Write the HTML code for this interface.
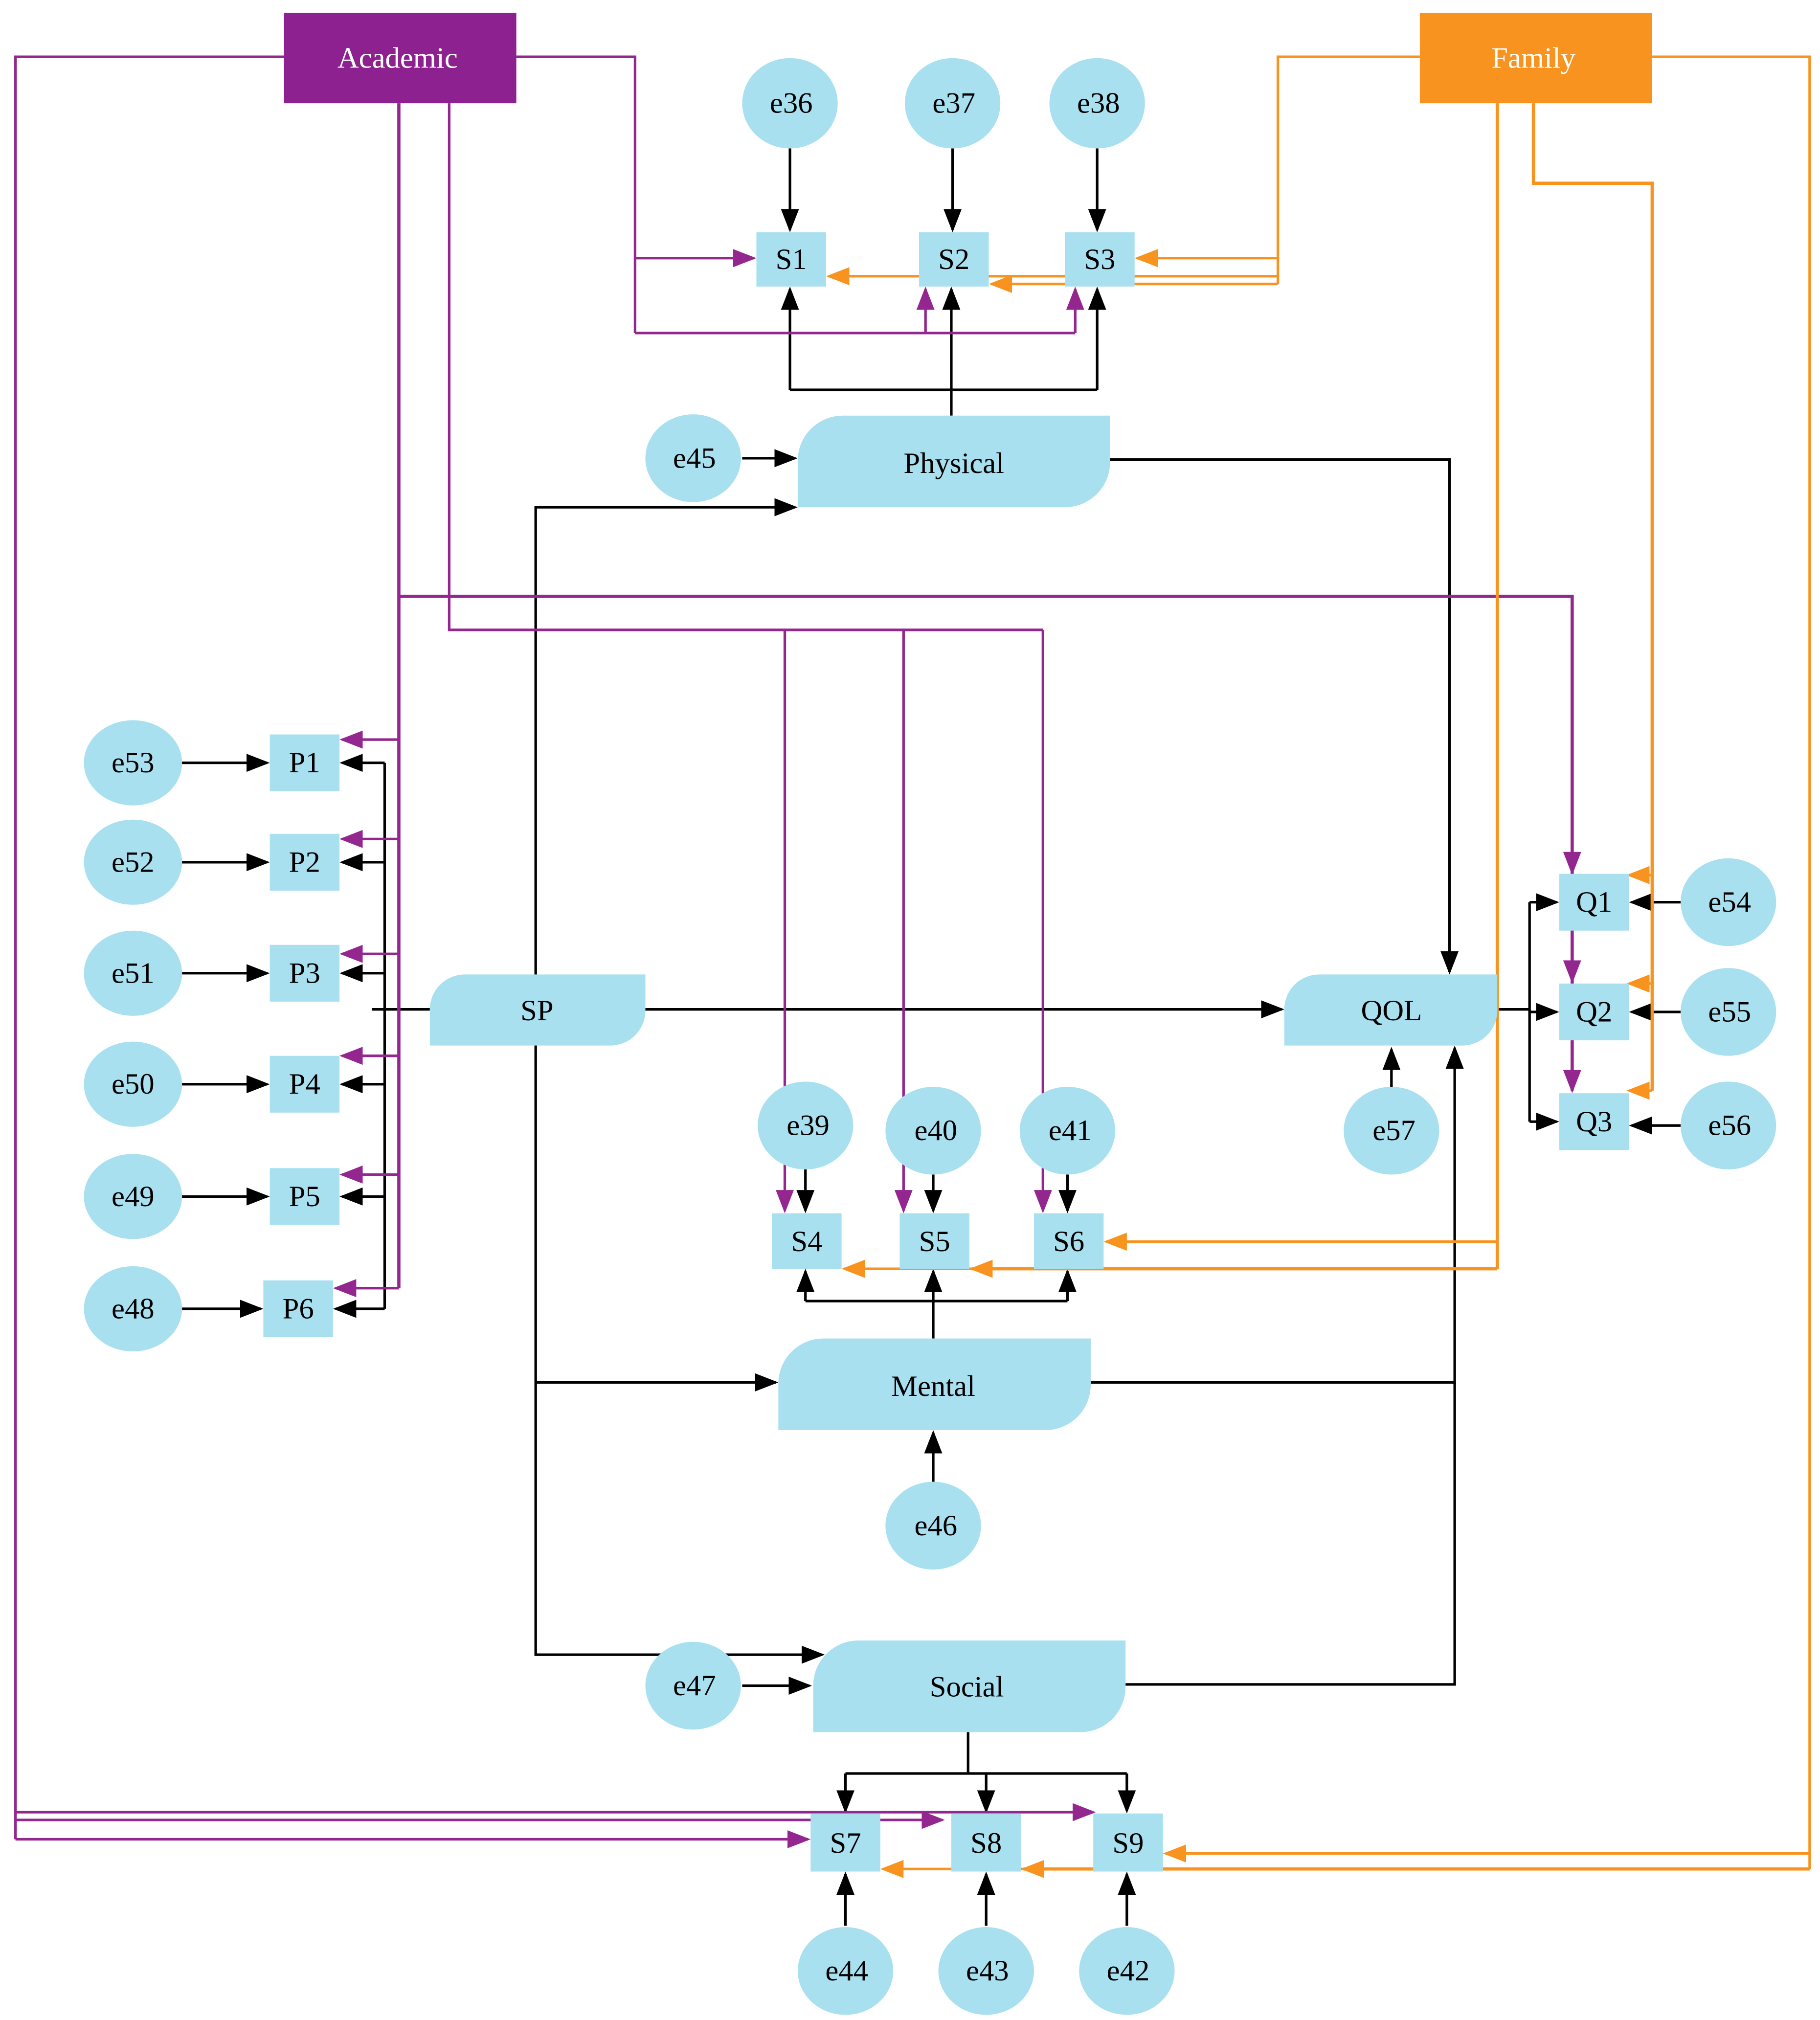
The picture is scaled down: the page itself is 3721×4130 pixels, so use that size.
<!DOCTYPE html>
<html><head><meta charset="utf-8"><style>
html,body{margin:0;padding:0;background:#fff;}
svg{display:block;}
text{font-family:"Liberation Serif",serif;font-size:23px;fill:#000;text-anchor:middle;dominant-baseline:central;}
</style></head><body>
<svg width="3721" height="4130" viewBox="0 0 1410 1565" xmlns="http://www.w3.org/2000/svg">
<defs>
<marker id="k" markerUnits="userSpaceOnUse" markerWidth="18" markerHeight="14" refX="16" refY="7" orient="auto"><path d="M0,0L18,7L0,14z" fill="#000"/></marker>
<marker id="p" markerUnits="userSpaceOnUse" markerWidth="18" markerHeight="14" refX="16" refY="7" orient="auto"><path d="M0,0L18,7L0,14z" fill="#93278f"/></marker>
<marker id="o" markerUnits="userSpaceOnUse" markerWidth="18" markerHeight="14" refX="16" refY="7" orient="auto"><path d="M0,0L18,7L0,14z" fill="#f7931e"/></marker>
</defs>
<rect width="1410" height="1565" fill="#fff"/>

<!-- black connectors -->
<g fill="none" stroke="#000" stroke-width="2">
<path d="M612,115V178" marker-end="url(#k)"/>
<path d="M738,115V178" marker-end="url(#k)"/>
<path d="M850,115V178" marker-end="url(#k)"/>
<path d="M737,322V302"/>
<path d="M612,302H850"/>
<path d="M612,302V224" marker-end="url(#k)"/>
<path d="M737,302V224" marker-end="url(#k)"/>
<path d="M850,302V224" marker-end="url(#k)"/>
<path d="M575,355H616" marker-end="url(#k)"/>
<path d="M860,356H1123V753" marker-end="url(#k)"/>
<path d="M415,782V393H616" marker-end="url(#k)"/>
<path d="M415,782V1282H637" marker-end="url(#k)"/>
<path d="M415,1071H601" marker-end="url(#k)"/>
<path d="M500,782H993" marker-end="url(#k)"/>
<path d="M333,782H298"/>
<path d="M298,591V1014"/>
<path d="M288,782H298"/>
<path d="M298,591H265" marker-end="url(#k)"/>
<path d="M298,668H265" marker-end="url(#k)"/>
<path d="M298,754H265" marker-end="url(#k)"/>
<path d="M298,840H265" marker-end="url(#k)"/>
<path d="M298,927H265" marker-end="url(#k)"/>
<path d="M298,1014H260" marker-end="url(#k)"/>
<path d="M141,591H207" marker-end="url(#k)"/>
<path d="M141,668H207" marker-end="url(#k)"/>
<path d="M141,754H207" marker-end="url(#k)"/>
<path d="M141,840H207" marker-end="url(#k)"/>
<path d="M141,927H207" marker-end="url(#k)"/>
<path d="M141,1014H202" marker-end="url(#k)"/>
<path d="M723,1037V1008"/>
<path d="M624,1008H827"/>
<path d="M624,1008V985" marker-end="url(#k)"/>
<path d="M723,1008V985" marker-end="url(#k)"/>
<path d="M827,1008V985" marker-end="url(#k)"/>
<path d="M624,906V938" marker-end="url(#k)"/>
<path d="M723,910V938" marker-end="url(#k)"/>
<path d="M827,910V938" marker-end="url(#k)"/>
<path d="M723,1148V1110" marker-end="url(#k)"/>
<path d="M845,1071H1127V812" marker-end="url(#k)"/>
<path d="M872,1305H1127V1071"/>
<path d="M1078,843V813" marker-end="url(#k)"/>
<path d="M1160,782H1185"/>
<path d="M1185,699V869"/>
<path d="M1185,699H1206" marker-end="url(#k)"/>
<path d="M1185,784H1206" marker-end="url(#k)"/>
<path d="M1185,869H1206" marker-end="url(#k)"/>
<path d="M1302,699H1264" marker-end="url(#k)"/>
<path d="M1302,784H1264" marker-end="url(#k)"/>
<path d="M1302,872H1264" marker-end="url(#k)"/>
<path d="M575,1306H627" marker-end="url(#k)"/>
<path d="M750,1342V1374"/>
<path d="M655,1374H873"/>
<path d="M655,1374V1403" marker-end="url(#k)"/>
<path d="M764,1374V1403" marker-end="url(#k)"/>
<path d="M873,1374V1403" marker-end="url(#k)"/>
<path d="M655,1492V1452" marker-end="url(#k)"/>
<path d="M764,1492V1452" marker-end="url(#k)"/>
<path d="M873,1492V1452" marker-end="url(#k)"/>
</g>

<!-- purple connectors -->
<g fill="none" stroke="#93278f" stroke-width="2">
<path d="M400,44H492V258"/>
<path d="M492,200H584" marker-end="url(#p)"/>
<path d="M492,258H833"/>
<path d="M717,258V224" marker-end="url(#p)"/>
<path d="M833,258V224" marker-end="url(#p)"/>
<path d="M220,44H12V1425"/>
<path d="M12,1404H847" marker-end="url(#p)"/>
<path d="M12,1410H730" marker-end="url(#p)"/>
<path d="M12,1425H626" marker-end="url(#p)"/>
<path d="M309,80V998" stroke-width="2.5"/>
<path d="M309,462H1218V676" stroke-width="2.5" marker-end="url(#p)"/>
<path d="M1218,676V760" stroke-width="2.5" marker-end="url(#p)"/>
<path d="M1218,760V845" stroke-width="2.5" marker-end="url(#p)"/>
<path d="M309,573H265" marker-end="url(#p)"/>
<path d="M309,650H265" marker-end="url(#p)"/>
<path d="M309,739H265" marker-end="url(#p)"/>
<path d="M309,818H265" marker-end="url(#p)"/>
<path d="M309,910H265" marker-end="url(#p)"/>
<path d="M309,998H260" marker-end="url(#p)"/>
<path d="M348,80V488H808"/>
<path d="M608,488V938" marker-end="url(#p)"/>
<path d="M700,488V938" marker-end="url(#p)"/>
<path d="M808,488V938" marker-end="url(#p)"/>
</g>

<!-- orange connectors -->
<g fill="none" stroke="#f7931e" stroke-width="2">
<path d="M1100,44H990V220"/>
<path d="M990,200H881" marker-end="url(#o)"/>
<path d="M990,214H642" marker-end="url(#o)"/>
<path d="M990,220H768" marker-end="url(#o)"/>
<path d="M1160,80V983" stroke-width="2.5"/>
<path d="M1160,962H857" marker-end="url(#o)"/>
<path d="M1160,983H753" stroke-width="2.5" marker-end="url(#o)"/>
<path d="M753,983H654" marker-end="url(#o)"/>
<path d="M1188,80V142H1280V845" stroke-width="2.5"/>
<path d="M1280,678H1262" marker-end="url(#o)"/>
<path d="M1280,762H1262" marker-end="url(#o)"/>
<path d="M1280,845H1262" marker-end="url(#o)"/>
<path d="M1280,44H1402V1448"/>
<path d="M1402,1436H903" marker-end="url(#o)"/>
<path d="M1402,1448H793" stroke-width="2.5" marker-end="url(#o)"/>
<path d="M793,1448H684" marker-end="url(#o)"/>
</g>

<!-- boxes -->
<rect x="220" y="10" width="180" height="70" fill="#8e2190"/>
<text x="308" y="45" style="fill:#fff">Academic</text>
<rect x="1100" y="10" width="180" height="70" fill="#f7931e"/>
<text x="1188" y="45" style="fill:#fff">Family</text>

<g fill="#a8e0f0">
<!-- latent shapes -->
<path d="M653,322H860V358A35,35 0 0 1 825,393H618V357A35,35 0 0 1 653,322Z"/>
<path d="M638,1037H845V1073A35,35 0 0 1 810,1108H603V1072A35,35 0 0 1 638,1037Z"/>
<path d="M665,1271H872V1307A35,35 0 0 1 837,1342H630V1306A35,35 0 0 1 665,1271Z"/>
<path d="M360,755H500V783A27,27 0 0 1 473,810H333V782A27,27 0 0 1 360,755Z"/>
<path d="M1022,755H1160V783A27,27 0 0 1 1133,810H995V782A27,27 0 0 1 1022,755Z"/>
<!-- rects -->
<rect x="586" y="180" width="54" height="42"/>
<rect x="712" y="180" width="54" height="42"/>
<rect x="825" y="180" width="54" height="42"/>
<rect x="598" y="940" width="54" height="43"/>
<rect x="697" y="940" width="54" height="43"/>
<rect x="801" y="940" width="54" height="43"/>
<rect x="628" y="1405" width="54" height="45"/>
<rect x="737" y="1405" width="54" height="45"/>
<rect x="847" y="1405" width="54" height="45"/>
<rect x="209" y="569" width="54" height="44"/>
<rect x="209" y="646" width="54" height="44"/>
<rect x="209" y="732" width="54" height="44"/>
<rect x="209" y="818" width="54" height="44"/>
<rect x="209" y="905" width="54" height="44"/>
<rect x="204" y="992" width="54" height="44"/>
<rect x="1208" y="677" width="54" height="44"/>
<rect x="1208" y="762" width="54" height="44"/>
<rect x="1208" y="847" width="54" height="44"/>
<!-- ellipses -->
<ellipse cx="612" cy="80" rx="37" ry="35"/>
<ellipse cx="738" cy="80" rx="37" ry="35"/>
<ellipse cx="850" cy="80" rx="37" ry="35"/>
<ellipse cx="537" cy="355" rx="37" ry="34"/>
<ellipse cx="624" cy="872" rx="37" ry="34"/>
<ellipse cx="723" cy="876" rx="37" ry="34"/>
<ellipse cx="827" cy="876" rx="37" ry="34"/>
<ellipse cx="1078" cy="876" rx="37" ry="34"/>
<ellipse cx="723" cy="1182" rx="37" ry="34"/>
<ellipse cx="537" cy="1306" rx="37" ry="34"/>
<ellipse cx="655" cy="1527" rx="37" ry="34"/>
<ellipse cx="764" cy="1527" rx="37" ry="34"/>
<ellipse cx="873" cy="1527" rx="37" ry="34"/>
<ellipse cx="103" cy="591" rx="38" ry="33"/>
<ellipse cx="103" cy="668" rx="38" ry="33"/>
<ellipse cx="103" cy="754" rx="38" ry="33"/>
<ellipse cx="103" cy="840" rx="38" ry="33"/>
<ellipse cx="103" cy="927" rx="38" ry="33"/>
<ellipse cx="103" cy="1014" rx="38" ry="33"/>
<ellipse cx="1339" cy="699" rx="37" ry="34"/>
<ellipse cx="1339" cy="784" rx="37" ry="34"/>
<ellipse cx="1339" cy="872" rx="37" ry="34"/>
</g>

<g>
<text x="739" y="359">Physical</text>
<text x="723" y="1074">Mental</text>
<text x="749" y="1307">Social</text>
<text x="416" y="783">SP</text>
<text x="1078" y="783">QOL</text>
<text x="613" y="201">S1</text>
<text x="739" y="201">S2</text>
<text x="852" y="201">S3</text>
<text x="625" y="962">S4</text>
<text x="724" y="962">S5</text>
<text x="828" y="962">S6</text>
<text x="655" y="1428">S7</text>
<text x="764" y="1428">S8</text>
<text x="874" y="1428">S9</text>
<text x="236" y="591">P1</text>
<text x="236" y="668">P2</text>
<text x="236" y="754">P3</text>
<text x="236" y="840">P4</text>
<text x="236" y="927">P5</text>
<text x="231" y="1014">P6</text>
<text x="1235" y="699">Q1</text>
<text x="1235" y="784">Q2</text>
<text x="1235" y="869">Q3</text>
<text x="613" y="80">e36</text>
<text x="739" y="80">e37</text>
<text x="851" y="80">e38</text>
<text x="538" y="355">e45</text>
<text x="626" y="872">e39</text>
<text x="725" y="876">e40</text>
<text x="829" y="876">e41</text>
<text x="1080" y="876">e57</text>
<text x="725" y="1182">e46</text>
<text x="538" y="1306">e47</text>
<text x="656" y="1527">e44</text>
<text x="765" y="1527">e43</text>
<text x="874" y="1527">e42</text>
<text x="103" y="591">e53</text>
<text x="103" y="668">e52</text>
<text x="103" y="754">e51</text>
<text x="103" y="840">e50</text>
<text x="103" y="927">e49</text>
<text x="103" y="1014">e48</text>
<text x="1340" y="699">e54</text>
<text x="1340" y="784">e55</text>
<text x="1340" y="872">e56</text>
</g>
</svg>
</body></html>
